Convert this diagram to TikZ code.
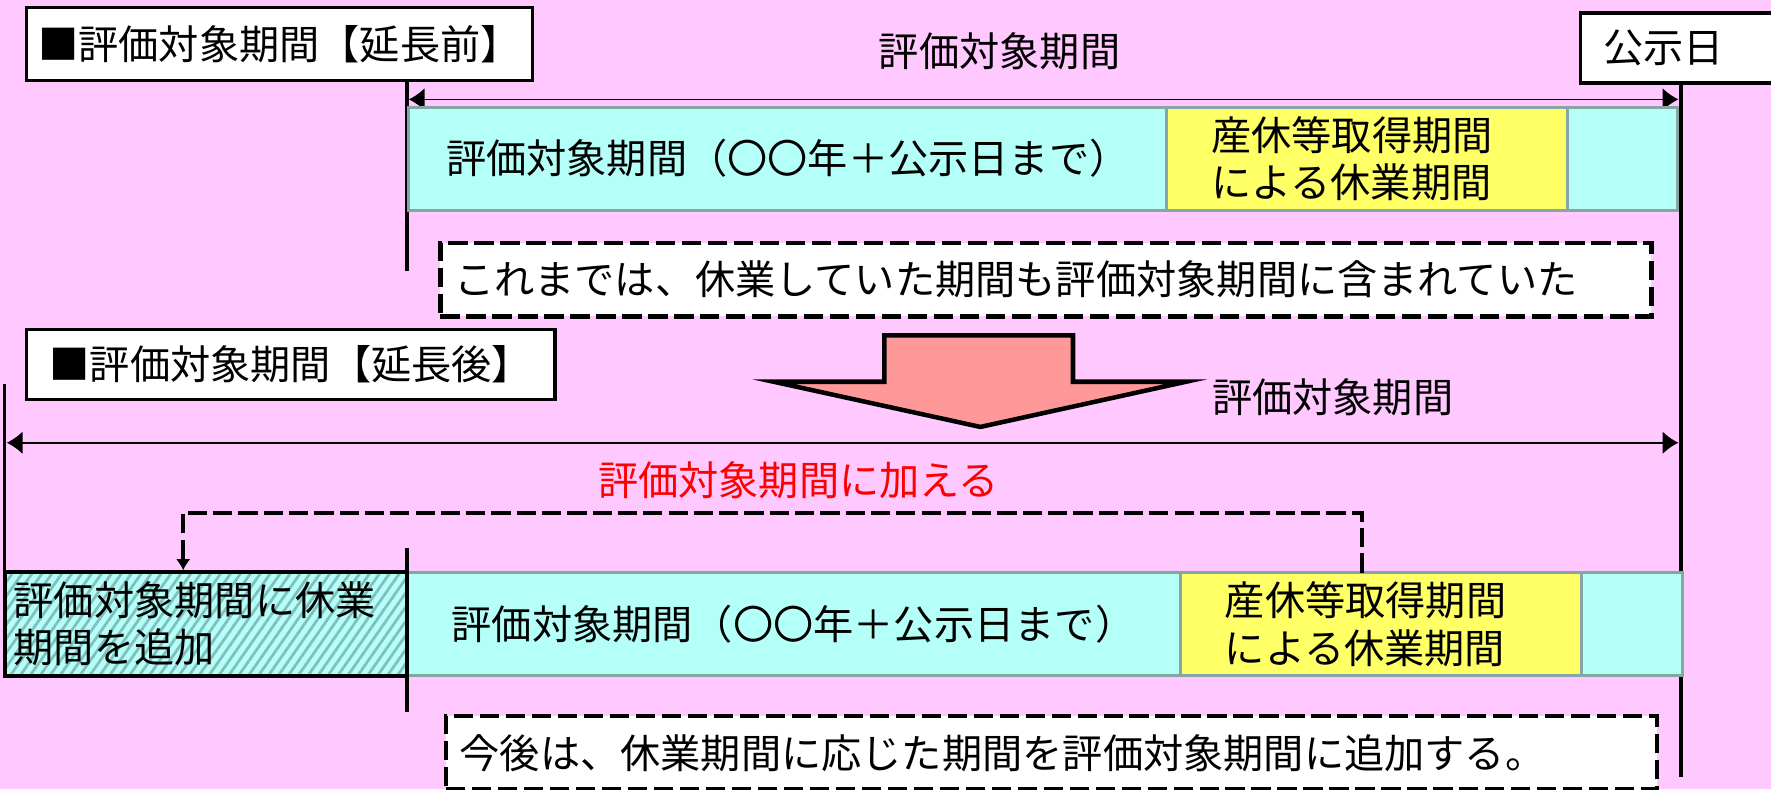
\documentclass[tikz,border=0pt]{standalone}
\usepackage{fontspec}
\setmainfont{Noto Sans CJK JP}
\usetikzlibrary{arrows.meta, positioning, calc, patterns.meta}

\definecolor{bgpink}{RGB}{255,200,255}
\definecolor{barcyan}{RGB}{180,255,248}
\definecolor{barline}{RGB}{135,165,165}
\definecolor{leaveyel}{RGB}{255,255,102}
\definecolor{arrowsal}{RGB}{255,153,153}
\definecolor{hatchgray}{RGB}{130,190,190}

\tikzset{
  labelbox/.style={draw, line width=1.5pt, fill=white, inner sep=0pt},
  barpart/.style={draw=barline, line width=1.3pt, fill=barcyan, inner sep=0pt, outer sep=0pt, minimum height=45.5pt},
  leavepart/.style={draw=barline, line width=1.3pt, fill=leaveyel, inner sep=0pt, outer sep=0pt, minimum height=45.5pt,
    text width=138pt, align=left},
  notebox/.style={draw, line width=2pt, dash pattern=on 8.5pt off 3pt, fill=white, inner ysep=0pt, inner xsep=6pt,
    minimum height=32.5pt, text width=524pt, align=left},
  hatchbox/.style={draw, line width=1.75pt, preaction={fill=barcyan},
    pattern={Lines[angle=55, distance=3.6pt, line width=1.2pt]}, pattern color=hatchgray,
    inner ysep=0pt, inner xsep=4pt, minimum height=46pt, text width=170pt, align=left},
  tickline/.style={line width=1.75pt},
  spanarrow/.style={line width=0.7pt, {Latex[length=7pt,width=10pt]}-{Latex[length=7pt,width=10pt]}},
  addlink/.style={line width=1.75pt, dash pattern=on 8.5pt off 2.7pt, -{Latex[length=5pt,width=6.5pt]}},
  bigarrow/.style={draw, line width=2pt, fill=arrowsal, line join=miter},
}

\begin{document}
\begin{tikzpicture}[x=0.5pt, y=-0.5pt, font=\fontsize{17.8pt}{21pt}\selectfont]
    \useasboundingbox (0,0) rectangle (1568,699);
    \fill[bgpink] (0,0) rectangle (1568,699);
    \clip (0,0) rectangle (1568,699);

    \node[labelbox, anchor=north west, minimum width=224pt, minimum height=32.5pt] (Pre) at (22,5) {■評価対象期間【延長前】};
    \node[labelbox, anchor=north west, minimum height=31pt, inner xsep=10pt, text width=90pt, align=left] (Day) at (1398,10) {公示日};
    \node (Span1) at (885,45) {評価対象期間};

    \coordinate (T1) at (360,240);
    \coordinate (T2) at (1488,688);
    \draw[tickline] (Pre.south -| T1) -- (T1);
    \draw[tickline] (Day.south -| T2) -- (T2);

    \coordinate (S1a) at (362,88);
    \coordinate (S1b) at (1486,88);
    \draw[spanarrow] (S1a) -- (S1b);

    \node[barpart, anchor=north west, minimum width=335.5pt] (Bar1) at (362,95) {評価対象期間（〇〇年＋公示日まで）};
    \node[leavepart, right=0pt of Bar1, minimum width=177.5pt] (Leave1) {産休等取得期間\\による休業期間};
    \node[barpart, right=0pt of Leave1, minimum width=48.5pt] (Rest1) {};

    \node[notebox, anchor=north west] (Note1) at (388,213) {これまでは、休業していた期間も評価対象期間に含まれていた};

    \node[labelbox, anchor=north west, minimum width=234pt, minimum height=31pt] (Post) at (22,290) {■評価対象期間【延長後】};

    \draw[bigarrow] (783,297) -- (950,297) -- (950,338) -- (1050,338) -- (868,378) -- (685,338) -- (783,338) -- cycle;
    \node (Span2) at (1180,352) {評価対象期間};

    \coordinate (S2a) at (6,392);
    \coordinate (S2b) at (1486,392);
    \draw[spanarrow] (S2a) -- (S2b);

    \node[text=red] (Add) at (707,425) {評価対象期間に加える};

    \node[hatchbox, anchor=north west] (Extra) at (3,505) {評価対象期間に休業\\期間を追加};
    \coordinate (T3) at (4,340);
    \draw[tickline] (T3) -- ([yshift=-8pt]T3 |- Extra.north);

    \node[barpart, anchor=north west, minimum width=342.5pt] (Bar2) at (360,507) {評価対象期間（〇〇年＋公示日まで）};
    \node[leavepart, right=0pt of Bar2, minimum width=177.5pt] (Leave2) {産休等取得期間\\による休業期間};
    \node[barpart, right=0pt of Leave2, minimum width=45pt] (Rest2) {};

    \coordinate (T4a) at (360,485);
    \coordinate (T4b) at (360,630);
    \draw[tickline] (T4a) -- (T4b);

    \draw[addlink] ([xshift=-8.5pt]Leave2.north) -- ++(0,-53) -| ([xshift=-10pt]Extra.north);

    \node[notebox, anchor=north west] (Note2) at (393,632) {今後は、休業期間に応じた期間を評価対象期間に追加する。};
\end{tikzpicture}
\end{document}
